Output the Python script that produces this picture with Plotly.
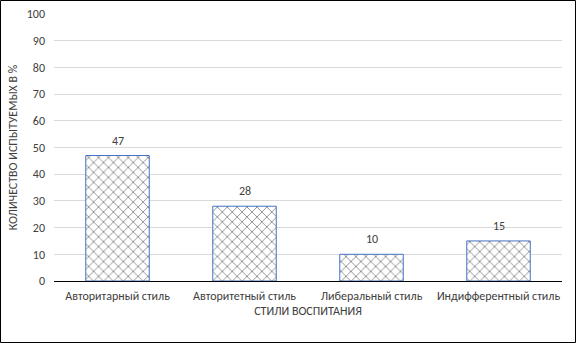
import plotly.graph_objects as go

categories = ["Авторитарный стиль", "Авторитетный стиль", "Либеральный стиль", "Индифферентный стиль"]
values = [47, 28, 10, 15]
y_ticks = [0, 10, 20, 30, 40, 50, 60, 70, 80, 90, 100]

W, H = 576, 343
L, R, T, B = 54, 14, 14, 62
pw, ph = W - L - R, H - T - B

font = "Carlito, Calibri, Lato, sans-serif"
txt = "#404040"

fig = go.Figure(go.Bar(
    x=categories, y=values, width=0.5,
    marker=dict(color="white", line=dict(color="#4472C4", width=1),
                pattern=dict(shape="x", fgcolor="black", bgcolor="white", size=7, solidity=0.22)),
    cliponaxis=False,
))

for c, v in zip(categories, values):
    fig.add_annotation(x=c, y=v, text=str(v), showarrow=False, yanchor="bottom", yshift=6,
                       font=dict(size=12, color=txt, family=font))

fig.update_layout(
    width=W, height=H, margin=dict(l=L, r=R, t=T, b=B, autoexpand=False),
    paper_bgcolor="white", plot_bgcolor="white", showlegend=False,
    font=dict(family=font, size=12, color=txt),
    xaxis=dict(showgrid=False, showline=True, linecolor="black", linewidth=1, automargin=False,
               ticks="", tickfont=dict(size=12, color=txt), ticklabelstandoff=4,
               title=dict(text="СТИЛИ ВОСПИТАНИЯ", font=dict(size=12, color=txt), standoff=4)),
    yaxis=dict(range=[0, 100], tickvals=y_ticks, showgrid=True, gridcolor="#D9D9D9", gridwidth=1,
               zeroline=False, showline=False, ticks="", ticklen=0, ticklabelstandoff=8, automargin=False,
               tickfont=dict(size=12, color=txt),
               title=dict(text="КОЛИЧЕСТВО ИСПЫТУЕМЫХ В %", font=dict(size=12, color=txt), standoff=6)),
    shapes=[dict(type="rect", xref="paper", yref="paper",
                 x0=-(L - 0.5) / pw, x1=1 + (R - 0.5) / pw,
                 y0=-(B - 0.5) / ph, y1=1 + (T - 0.5) / ph,
                 line=dict(color="black", width=1), fillcolor="rgba(0,0,0,0)")],
)
fig.write_html("out.html", config={"displayModeBar": False},
               post_script="document.body.style.margin='0';document.body.style.overflow='hidden';")
